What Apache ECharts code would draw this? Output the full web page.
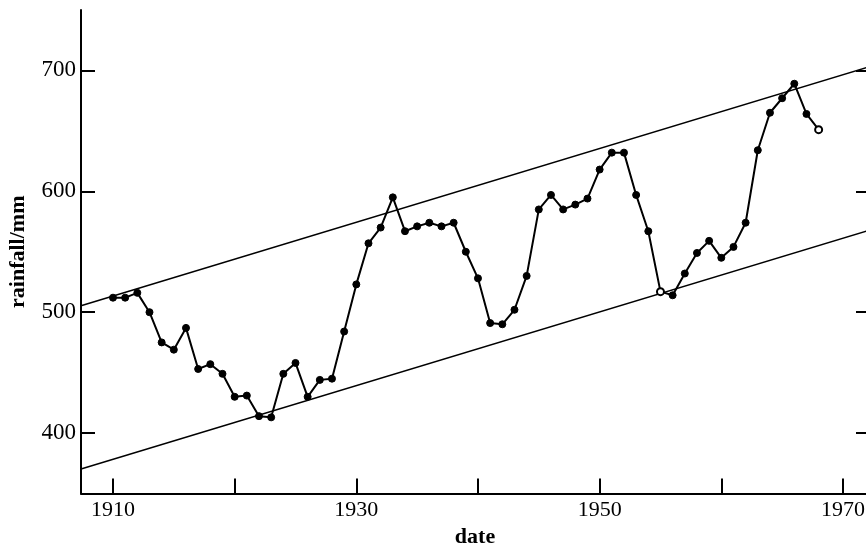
<!DOCTYPE html>
<html>
<head>
<meta charset="utf-8">
<script src="https://cdn.jsdelivr.net/npm/echarts@6/dist/echarts.min.js"></script>
<style>
  html, body { margin: 0; padding: 0; background: #ffffff; }
  #chart { width: 866px; height: 549px; }
</style>
</head>
<body>
<div id="chart"></div>
<script>
// ---- data ----
const years = [1910, 1911, 1912, 1913, 1914, 1915, 1916, 1917, 1918, 1919,
               1920, 1921, 1922, 1923, 1924, 1925, 1926, 1927, 1928, 1929,
               1930, 1931, 1932, 1933, 1934, 1935, 1936, 1937, 1938, 1939,
               1940, 1941, 1942, 1943, 1944, 1945, 1946, 1947, 1948, 1949,
               1950, 1951, 1952, 1953, 1954, 1955, 1956, 1957, 1958, 1959,
               1960, 1961, 1962, 1963, 1964, 1965, 1966, 1967, 1968];
const rainfall = [512, 512, 516, 500, 475, 469, 487, 453, 457, 449,
                  430, 431, 414, 413, 449, 458, 430, 444, 445, 484,
                  523, 557, 570, 595, 567, 571, 574, 571, 574, 550,
                  528, 491, 490, 502, 530, 585, 597, 585, 589, 594,
                  618, 632, 632, 597, 567, 517, 514, 532, 549, 559,
                  545, 554, 574, 634, 665, 677, 689, 664, 651];
const openMarkerYears = [1955, 1968];

// trend band: values at the two ends of the date axis
const trendYears = [1907.37, 1972.14];
const trendUpper = [505.4, 702.9];
const trendLower = [370.2, 567.7];

// axes
const xMin = 1907.37, xMax = 1972.14;
const xTicks = [1910, 1920, 1930, 1940, 1950, 1960, 1970];
const xTickLabels = [1910, 1930, 1950, 1970];
const yMin = 350, yMax = 750;
const yTicks = [400, 500, 600, 700];
const yTickLabels = [400, 500, 600, 700];

// ---- chart ----
const serif = '"Liberation Serif", "DejaVu Serif", serif';
const chart = echarts.init(document.getElementById('chart'), null, { renderer: 'canvas' });

const mainData = years.map((y, i) => {
  const d = { value: [y, rainfall[i]] };
  if (openMarkerYears.includes(y)) {
    d.symbol = 'emptyCircle';
  }
  return d;
});

const option = {
  backgroundColor: '#ffffff',
  animation: false,
  grid: { left: 81, right: -3, top: 10, bottom: 55.5, containLabel: false, outerBoundsMode: 'none' },
  xAxis: {
    type: 'value',
    min: xMin, max: xMax,
    name: 'date',
    nameLocation: 'middle',
    nameGap: 33,
    nameTextStyle: { fontFamily: serif, fontWeight: 'bold', fontSize: 22, color: '#000', verticalAlign: 'top' },
    axisLine: { show: true, onZero: false, lineStyle: { color: '#000', width: 2 } },
    axisTick: { show: true, inside: true, length: 15, customValues: xTicks, lineStyle: { color: '#000', width: 2 } },
    axisLabel: { show: true, customValues: xTickLabels, margin: 6, fontFamily: serif, fontSize: 22, color: '#000',
                 formatter: v => String(v) },
    splitLine: { show: false }
  },
  yAxis: [{
    type: 'value',
    position: 'left',
    min: yMin, max: yMax,
    name: 'rainfall/mm',
    nameLocation: 'middle',
    nameGap: 52,
    nameTextStyle: { fontFamily: serif, fontWeight: 'bold', fontSize: 22, color: '#000' },
    axisLine: { show: true, onZero: false, lineStyle: { color: '#000', width: 2 } },
    axisTick: { show: true, inside: true, length: 14, customValues: yTicks, lineStyle: { color: '#000', width: 2 } },
    axisLabel: { show: true, customValues: yTickLabels, margin: 5, fontFamily: serif, fontSize: 23, color: '#000' },
    splitLine: { show: false }
  }, {
    type: 'value',
    position: 'right',
    min: yMin, max: yMax,
    axisLine: { show: true, onZero: false, lineStyle: { color: '#000', width: 2 } },
    axisTick: { show: true, inside: true, length: 13, customValues: yTicks, lineStyle: { color: '#000', width: 2 } },
    axisLabel: { show: false },
    splitLine: { show: false }
  }],
  series: [
    {
      type: 'line',
      data: trendYears.map((y, i) => [y, trendUpper[i]]),
      showSymbol: false, symbol: 'none',
      lineStyle: { color: '#000', width: 1.5 },
      silent: true
    },
    {
      type: 'line',
      data: trendYears.map((y, i) => [y, trendLower[i]]),
      showSymbol: false, symbol: 'none',
      lineStyle: { color: '#000', width: 1.5 },
      silent: true
    },
    {
      type: 'line',
      data: mainData,
      symbol: 'circle',
      symbolSize: 7,
      showAllSymbol: true,
      itemStyle: { color: '#000', borderColor: '#000', borderWidth: 1 },
      lineStyle: { color: '#000', width: 2 },
      z: 5
    }
  ]
};
chart.setOption(option);
</script>
</body>
</html>
